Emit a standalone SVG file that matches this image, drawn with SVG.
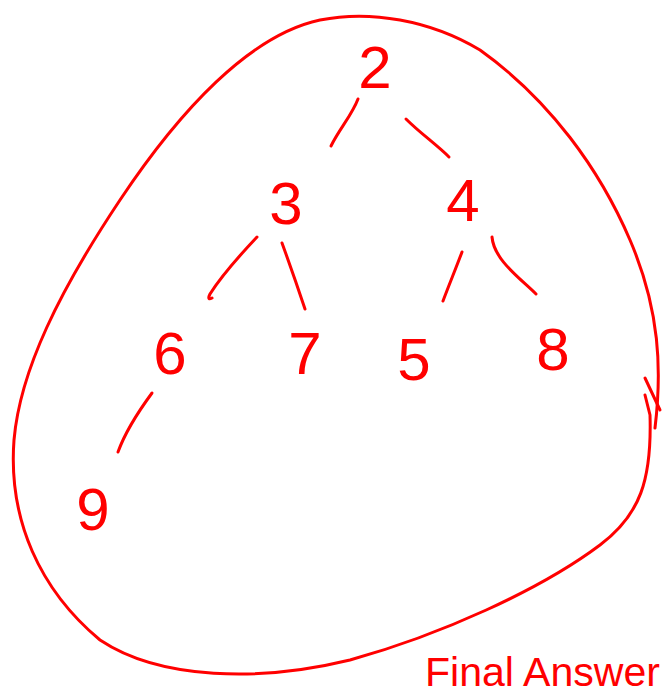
<svg xmlns="http://www.w3.org/2000/svg" width="663" height="698" viewBox="0 0 663 698">
<style>
.s{fill:none;stroke:#ff0000;stroke-width:3;stroke-linecap:round;stroke-linejoin:round}
.t{fill:#ff0000;font-family:"Liberation Sans",Arial,sans-serif;font-size:60px;text-anchor:middle}
.f{fill:#ff0000;font-family:"Liberation Sans",Arial,sans-serif;font-size:40px}
</style>
<rect width="663" height="698" fill="#ffffff"/>
<g id="outline">
<path class="s" d="M655,428 C662,370 660,310 630,240 C600,170 550,100 480,50 C430,20 370,10 320,20 C250,35 180,110 120,200 C60,290 20,370 14,440 C8,520 40,590 100,640 C160,680 260,682 350,660 C440,635 540,590 600,545 C640,515 652,480 650,415 L645,395"/>
<path class="s" d="M645,378 L660,410"/>
</g>
<g id="connectors">
<path class="s" d="M358,99 C352,115 340,128 331,146"/>
<path class="s" d="M406,119 C420,133 437,145 449,157"/>
<path class="s" d="M257,237 C240,255 222,275 210,294 C207,300 210,299 212,298"/>
<path class="s" d="M282,243 C290,265 298,288 305,309"/>
<path class="s" d="M462,252 C456,268 449,285 443,301"/>
<path class="s" d="M492,237 C494,260 520,278 536,294"/>
<path class="s" d="M152,393 C138,412 126,430 118,452"/>
</g>
<g id="n2"><text class="t" x="375" y="88">2</text></g>
<g id="n3"><text class="t" x="286" y="224">3</text></g>
<g id="n4"><text class="t" x="463" y="221">4</text></g>
<g id="n6"><text class="t" x="170" y="374">6</text></g>
<g id="n7"><text class="t" x="305" y="374">7</text></g>
<g id="n5"><text class="t" x="414" y="380">5</text></g>
<g id="n8"><text class="t" x="553" y="370">8</text></g>
<g id="n9"><text class="t" x="93" y="530">9</text></g>
<g id="label"><text class="f" x="425" y="686" textLength="235" lengthAdjust="spacingAndGlyphs">Final Answer</text></g>
</svg>
